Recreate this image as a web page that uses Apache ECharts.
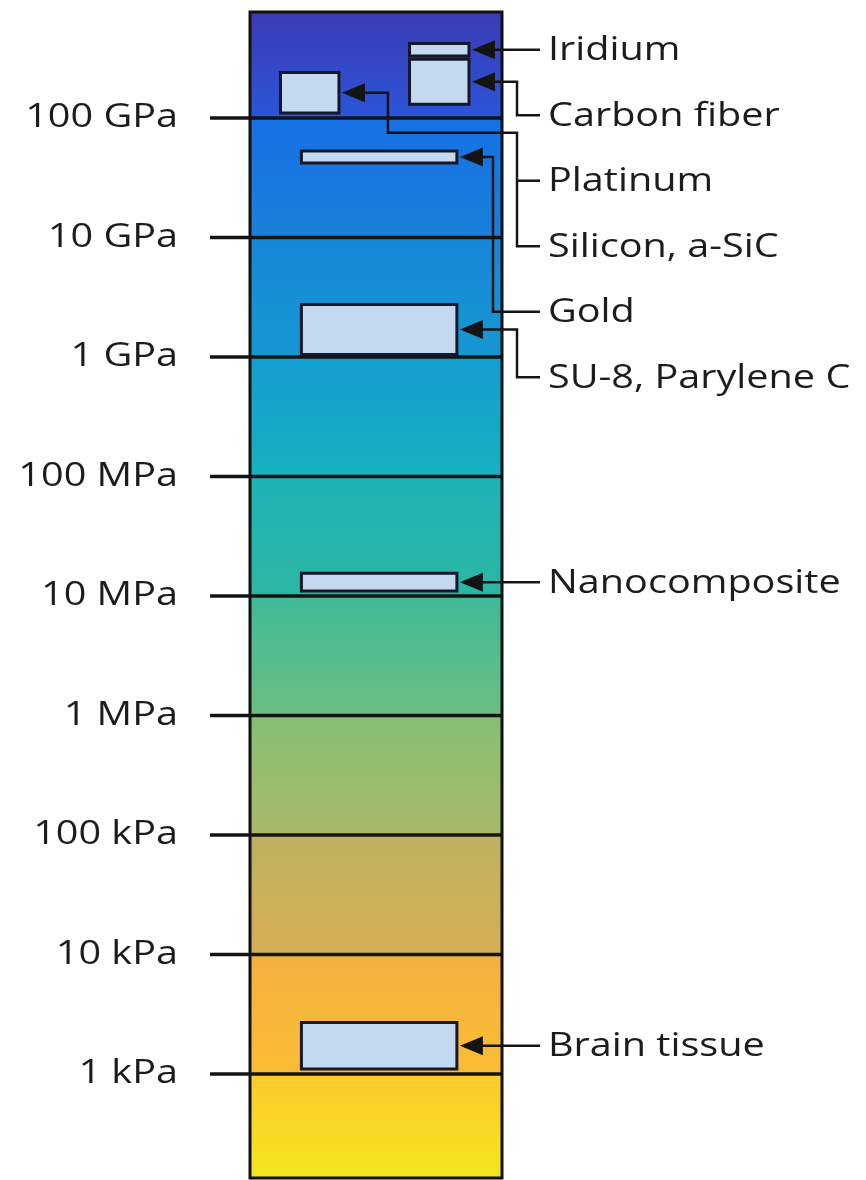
<!DOCTYPE html>
<html><head><meta charset="utf-8">
<script src="https://cdn.jsdelivr.net/npm/echarts@6/dist/echarts.min.js"></script>
<style>html,body{margin:0;padding:0;background:#fff}#c{width:866px;height:1180px}</style>
</head><body><div id="c"></div>
<script>
// ---- data ----
const tickValues = [1e11, 1e10, 1e9, 1e8, 1e7, 1e6, 1e5, 1e4, 1e3];
const tickLabels = ['100 GPa', '10 GPa', '1 GPa', '100 MPa', '10 MPa', '1 MPa', '100 kPa', '10 kPa', '1 kPa'];
const materialLabels = ['Iridium', 'Carbon fiber', 'Platinum', 'Silicon, a-SiC', 'Gold', 'SU-8, Parylene C', 'Nanocomposite', 'Brain tissue'];
const boxLow  = [3.3e11, 1.3e11, 1.1e11, 4.2e10, 1.05e9, 1.1e7, 1.1e3];
const boxHigh = [4.2e11, 3.1e11, 2.4e11, 5.3e10, 2.75e9, 1.55e7, 2.7e3];
const boxLabelIdx = [[0], [1], [2, 3], [4], [5], [6], [7]];
const axisMin = 135, axisMax = 7.7e11;

// ---- layout / style ----
const SLOT = { right: [0.633, 0.869], left: [0.121, 0.353], wide: [0.204, 0.821] };
const boxSlot = ['right', 'right', 'left', 'wide', 'wide', 'wide', 'wide'];
const route = ['straight', 'elbow', 'double', 'inner', 'elbow', 'straight', 'straight'];
const FONT = '33px "Open Sans"';
const TEXT_SX = 1.2;
const LABEL_GAP = 65.5;
const INK = '#141414';

function txt(x, y, s, align) {
  return { type: 'text', x: x, y: y, scaleX: TEXT_SX,
    style: { text: s, align: align, verticalAlign: 'middle', font: FONT, fill: '#1c1c1c' } };
}
function pl(points) {
  return { type: 'polyline', shape: { points: points }, style: { stroke: INK, lineWidth: 2.5, fill: null } };
}

function renderTick(params, api) {
  const cs = params.coordSys;
  const y = api.coord([0.5, api.value(1)])[1];
  return { type: 'group', children: [
    { type: 'line', shape: { x1: cs.x - 40, y1: y, x2: cs.x + cs.width, y2: y }, style: { stroke: INK, lineWidth: 3.5 } },
    txt(cs.x - 72, y, tickLabels[params.dataIndex], 'right')
  ] };
}

function renderBox(params, api) {
  const i = params.dataIndex;
  const cs = params.coordSys;
  const colR = cs.x + cs.width;
  const s = SLOT[boxSlot[i]];
  const xL = api.coord([s[0], api.value(1)])[0];
  const xR = api.coord([s[1], api.value(1)])[0];
  const yTop = api.coord([0.5, api.value(2)])[1];
  const yBot = api.coord([0.5, api.value(1)])[1];
  const yMid = (yTop + yBot) / 2;
  const y0 = (api.coord([0.5, boxLow[0]])[1] + api.coord([0.5, boxHigh[0]])[1]) / 2;
  const labelY = k => (k <= 5 ? y0 + k * LABEL_GAP : yMid);
  const tip = xR + 3, base = tip + 23;
  const lx1 = colR + 38, tx = colR + 46;
  const bend = colR + 15;
  const kids = [
    { type: 'rect', shape: { x: xL, y: yTop, width: xR - xL, height: yBot - yTop },
      style: { fill: '#c4d9f0', stroke: '#15182a', lineWidth: 3 } },
    { type: 'polygon', shape: { points: [[tip, yMid], [base, yMid - 9.5], [base, yMid + 9.5]] }, style: { fill: INK } }
  ];
  const labs = boxLabelIdx[i];
  const r = route[i];
  if (r === 'straight') {
    kids.push(pl([[base - 2, yMid], [lx1, yMid]]));
  } else if (r === 'elbow') {
    const ly = labelY(labs[0]);
    kids.push(pl([[base - 2, yMid], [bend, yMid], [bend, ly], [lx1, ly]]));
  } else if (r === 'inner') {
    const ly = labelY(labs[0]);
    const bx = colR - 9;
    kids.push(pl([[base - 2, yMid], [bx, yMid], [bx, ly], [lx1, ly]]));
  } else if (r === 'double') {
    const lyA = labelY(labs[0]), lyB = labelY(labs[labs.length - 1]);
    const jx = xR + 49, jy = yMid + 40;
    kids.push(pl([[base - 2, yMid], [jx, yMid], [jx, jy], [bend, jy], [bend, lyB], [lx1, lyB]]));
    kids.push(pl([[bend, lyA], [lx1, lyA]]));
  }
  labs.forEach(k => kids.push(txt(tx, labelY(k) + 1, materialLabels[k], 'left')));
  return { type: 'group', children: kids };
}

const stops = [
  [0, '#3c3ab4'], [0.045, '#3447c6'], [0.0899, '#2b55d8'], [0.0919, '#1570e6'],
  [0.1937, '#1a80d8'], [0.1957, '#1886d8'],
  [0.294, '#1598d2'], [0.296, '#139ed0'],
  [0.3987, '#17b0c0'], [0.4007, '#1cb3b6'],
  [0.4999, '#2cb6a4'], [0.5019, '#3fba98'],
  [0.6036, '#6abf80'], [0.6056, '#85bf74'],
  [0.704, '#a9b868'], [0.706, '#beb160'],
  [0.8077, '#d6ae54'], [0.8097, '#f2b13f'],
  [0.9098, '#fbbc35'], [0.9118, '#fcca2c'],
  [1, '#f4e61e']
];

const chart = echarts.init(document.getElementById('c'), null, { renderer: 'canvas' });
chart.setOption({
  animation: false,
  backgroundColor: '#ffffff',
  grid: {
    left: 250, top: 12, width: 252, height: 1166, show: true,
    borderColor: '#111111', borderWidth: 3,
    backgroundColor: { type: 'linear', x: 0, y: 0, x2: 0, y2: 1,
      colorStops: stops.map(s => ({ offset: s[0], color: s[1] })) }
  },
  xAxis: { type: 'value', min: 0, max: 1, show: false },
  yAxis: { type: 'log', logBase: 10, min: axisMin, max: axisMax, show: false },
  series: [
    { type: 'custom', name: 'ticks', renderItem: renderTick, clip: false,
      encode: { x: 0, y: 1 }, data: tickValues.map(v => [0.5, v]), z: 2 },
    { type: 'custom', name: 'materials', renderItem: renderBox, clip: false,
      encode: { x: 0, y: [1, 2] }, data: boxLow.map((l, i) => [0.5, l, boxHigh[i]]), z: 3 }
  ]
});
</script>
</body></html>
